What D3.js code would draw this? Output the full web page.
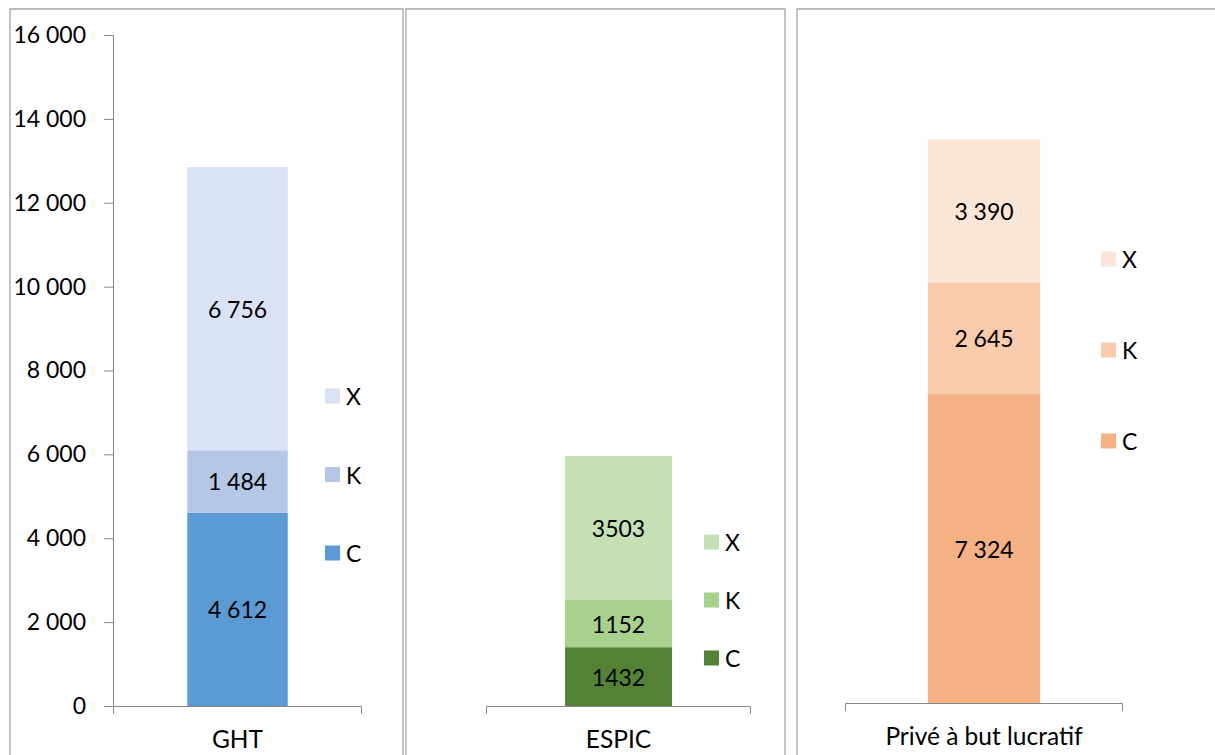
<!DOCTYPE html>
<html lang="fr">
<head>
<meta charset="UTF-8">
<script src="https://d3js.org/d3.v7.min.js"></script>
<title>GHT / ESPIC / Privé</title>
<style>
    body { margin: 0; background: #fff; }
    svg { font-family: Lato, "Open Sans", sans-serif; }
    .frame { fill: none; stroke: #a6a6a6; stroke-width: 1.3px; }
    .axis path, .axis line { stroke: #868686; }
    .axis text { font-family: Lato, "Open Sans", sans-serif; font-size: 23px; fill: #000; }
    .xaxis text { font-size: 24.5px; }
    .lbl { font-size: 23px; fill: #000; }
</style>
</head>
<body>
<svg id="chart" width="1215" height="755"></svg>
<script>
// data
const categories = ["GHT", "ESPIC", "Privé à but lucratif"];
const seriesKeys = ["C", "K", "X"];
const valuesC = [4612, 1432, 7324];
const valuesK = [1484, 1152, 2645];
const valuesX = [6756, 3503, 3390];
const spacedLabels = [true, false, true];   // ESPIC labels written without thousands space
const yTicks = [0, 2000, 4000, 6000, 8000, 10000, 12000, 14000, 16000];
const colors = [
    ["#5b9bd5", "#b4c7e7", "#dae3f3"],
    ["#548235", "#a9d18e", "#c5e0b4"],
    ["#f4b183", "#f8cbad", "#fbe5d6"]
];

// layout of the three little charts
const panels = [
    {fx0: 10,  fx1: 403,  ax0: 113, ax1: 362,  y0: 706, y1: 35, legX: 325,  legY: 396, legStep: 78.5, yAxis: true},
    {fx0: 406, fx1: 785,  ax0: 486, ax1: 751,  y0: 706, y1: 49, legX: 704,  legY: 542, legStep: 58},
    {fx0: 797, fx1: 1230, ax0: 845, ax1: 1123, y0: 703, y1: 28, legX: 1101, legY: 259, legStep: 91}
];

const fr = d3.formatLocale({decimal: ",", thousands: "\u00a0", grouping: [3]});
const fmtSpace = fr.format(",");
const fmtPlain = d3.format("d");

const svg = d3.select("#chart");

panels.forEach((p, i) => {
    const g = svg.append("g");

    // frame (open at the bottom, like the cropped original)
    g.append("path")
        .attr("class", "frame")
        .attr("d", `M${p.fx0},760V9H${p.fx1}V760`);

    const y = d3.scaleLinear().domain([0, 16000]).range([p.y0, p.y1]);
    const x = d3.scaleBand().domain([categories[i]]).range([p.ax0, p.ax1]).padding(0.425);

    const row = {cat: categories[i], C: valuesC[i], K: valuesK[i], X: valuesX[i]};
    const stacked = d3.stack().keys(seriesKeys)([row]);

    if (p.yAxis) {
        const ya = g.append("g")
            .attr("class", "axis")
            .attr("transform", `translate(${p.ax0},0)`)
            .call(d3.axisLeft(y).tickValues(yTicks).tickSize(9).tickSizeOuter(0).tickPadding(18)
                .tickFormat(d => fmtSpace(d)));
        ya.select(".domain").attr("d", `M0.5,${p.y0}V${y(16000)}`);
    }

    // x axis
    const xa = g.append("g")
        .attr("class", "axis xaxis")
        .attr("transform", `translate(0,${p.y0})`)
        .call(d3.axisBottom(x).tickSize(0).tickSizeOuter(8).tickPadding(25));
    xa.select(".domain").attr("d", `M${p.ax0 + 0.5},8V0.5H${p.ax1 - 0.5}V8`);
    xa.selectAll(".tick text").attr("dy", "0.71em");

    // bars
    const layers = g.selectAll("g.layer")
        .data(stacked)
        .join("g")
        .attr("class", "layer")
        .attr("fill", (d, k) => colors[i][k]);

    layers.selectAll("rect")
        .data(d => d)
        .join("rect")
        .attr("x", d => x(d.data.cat))
        .attr("width", x.bandwidth())
        .attr("y", d => y(d[1]))
        .attr("height", d => y(d[0]) - y(d[1]));

    // value labels
    g.selectAll("text.lbl")
        .data(stacked)
        .join("text")
        .attr("class", "lbl")
        .attr("text-anchor", "middle")
        .attr("dominant-baseline", "central")
        .attr("x", x(categories[i]) + x.bandwidth() / 2)
        .attr("y", d => (y(d[0][0]) + y(d[0][1])) / 2)
        .text(d => spacedLabels[i] ? fmtSpace(d[0][1] - d[0][0]) : fmtPlain(d[0][1] - d[0][0]));

    // legend, X on top
    const leg = g.selectAll("g.leg")
        .data(seriesKeys.slice().reverse())
        .join("g")
        .attr("class", "leg")
        .attr("transform", (d, k) => `translate(${p.legX},${p.legY + k * p.legStep})`);
    leg.append("rect")
        .attr("x", 0).attr("y", -7.5).attr("width", 15).attr("height", 15)
        .attr("fill", d => colors[i][seriesKeys.indexOf(d)]);
    leg.append("text")
        .attr("class", "lbl")
        .attr("x", 21)
        .attr("dominant-baseline", "central")
        .text(d => d);
});
</script>
</body>
</html>
